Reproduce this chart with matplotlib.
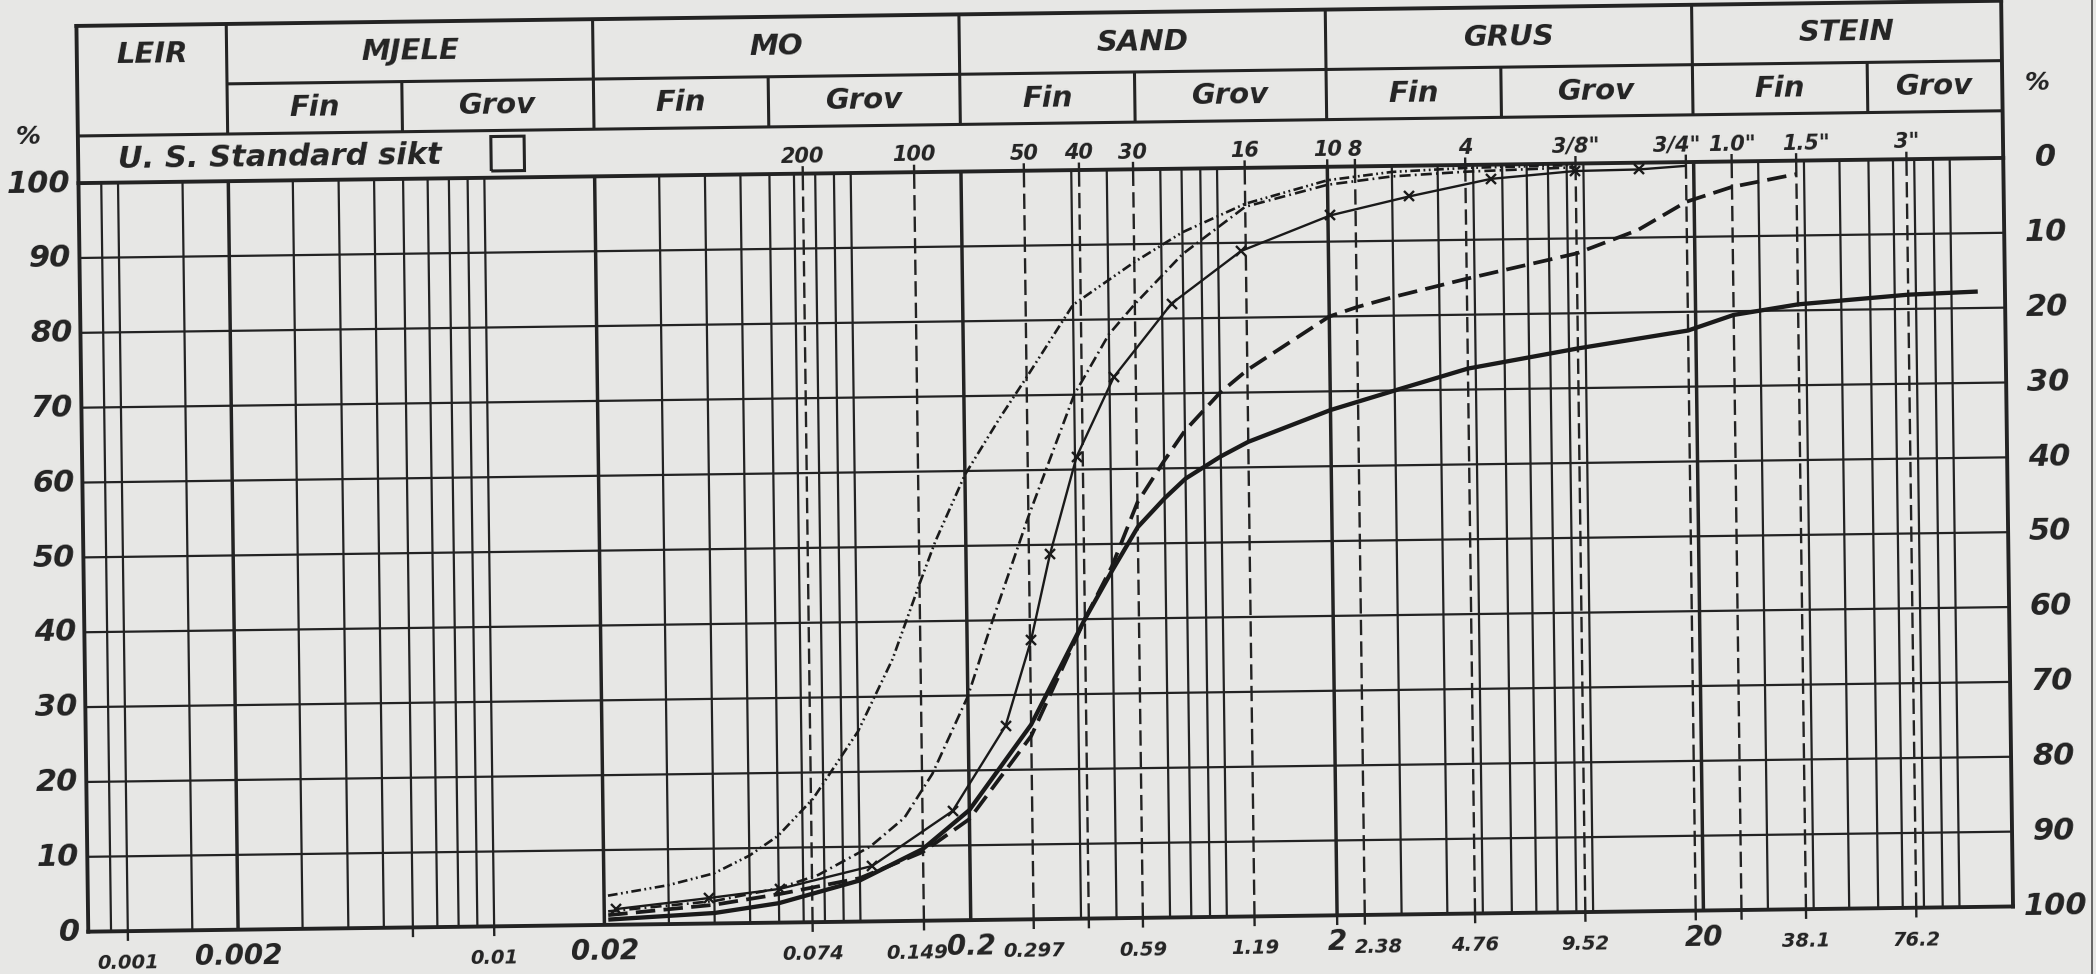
import numpy as np
import matplotlib.pyplot as plt
from matplotlib.transforms import Affine2D
from matplotlib.lines import Line2D

plt.rcParams['lines.scale_dashes'] = False
plt.rcParams['font.family'] = ['DejaVu Sans']

paper = '#e7e7e5'
ink = '#232323'

# grain size axis (mm), log scale
x_min, x_max = 0.00078, 140.0

# soil classes with their limits (mm)
classes = ['LEIR', 'MJELE', 'MO', 'SAND', 'GRUS', 'STEIN']
class_limits = [0.002, 0.02, 0.2, 2.0, 20.0]
fine_coarse = [0.006, 0.06, 0.6, 6.0, 60.0]

# U.S. standard sieves: opening (mm) and designation
sieve_mm = [0.074, 0.149, 0.297, 0.42, 0.59, 1.19, 2.0, 2.38, 4.76, 9.52, 19.05, 25.4, 38.1, 76.2]
sieve_names = ['200', '100', '50', '40', '30', '16', '10', '8', '4', '3/8"', '3/4"', '1.0"', '1.5"', '3"']

# numbers written under the axis
bottom_vals = [0.001, 0.002, 0.01, 0.02, 0.074, 0.149, 0.2, 0.297, 0.59, 1.19, 2, 2.38, 4.76, 9.52, 20, 38.1, 76.2]
bottom_text = ['0.001', '0.002', '0.01', '0.02', '0.074', '0.149', '0.2', '0.297', '0.59', '1.19', '2',
               '2.38', '4.76', '9.52', '20', '38.1', '76.2']
big_labels = ['0.002', '0.02', '0.2', '2', '20']

pct = list(range(0, 101, 10))

# grading curves: grain size (mm) -> percent passing
a_d = [0.0205, 0.03, 0.04, 0.05, 0.06, 0.075, 0.1, 0.125, 0.149, 0.165, 0.2, 0.25, 0.297, 0.4, 0.59, 0.8,
       1.19, 2.0, 3.0, 4.76, 9.52]
a_p = [3.9, 5.2, 6.7, 9.0, 11.6, 16.5, 25.4, 35.0, 45.0, 50.6, 59.5, 67.0, 72.4, 82.0, 87.6, 91.5,
       95.2, 98.2, 99.2, 99.6, 99.8]

b_d = [0.0205, 0.04, 0.06, 0.077, 0.107, 0.133, 0.159, 0.2, 0.234, 0.297, 0.4, 0.5, 0.59, 0.8, 1.19,
       2.0, 3.0, 4.76, 9.52]
b_p = [1.8, 3.0, 4.6, 6.3, 10.0, 13.8, 19.6, 29.9, 39.7, 53.8, 70.0, 78.0, 82.0, 88.6, 94.8,
       97.6, 98.6, 99.1, 99.5]

c_d = [0.0216, 0.0386, 0.0603, 0.108, 0.180, 0.253, 0.299, 0.339, 0.404, 0.514, 0.743, 1.155, 2.03,
       3.34, 5.59, 9.5, 14.2, 19.05]
c_p = [2.1, 3.4, 4.5, 7.4, 14.6, 25.9, 37.3, 48.7, 61.7, 72.3, 82.0, 88.9, 93.5,
       95.9, 98.1, 99.0, 99.1, 99.5]

d_d = [0.0205, 0.04, 0.06, 0.1, 0.149, 0.2, 0.297, 0.42, 0.5, 0.59, 0.7, 0.8, 1.0, 1.19, 2.0, 2.38,
       3.0, 4.76, 9.52, 14.0, 19.05, 25.4, 38.1]
d_p = [1.3, 2.5, 3.8, 5.8, 9.2, 13.5, 24.5, 40.0, 47.0, 55.5, 61.0, 65.0, 70.0, 73.0, 80.0, 81.2,
       82.5, 84.8, 88.0, 91.0, 94.7, 96.6, 98.2]

e_d = [0.0205, 0.04, 0.06, 0.1, 0.149, 0.2, 0.297, 0.42, 0.5, 0.59, 0.7, 0.8, 1.0, 1.19, 2.0, 3.0,
       4.76, 9.52, 19.05, 25.4, 38.1, 76.2, 118]
e_p = [0.7, 1.4, 2.6, 5.5, 9.6, 14.7, 26.0, 40.0, 46.4, 52.2, 56.0, 58.6, 61.5, 63.4, 67.5, 70.0,
       72.8, 75.3, 77.5, 79.5, 80.8, 81.9, 82.2]

W, H = 2096, 974
fig = plt.figure(figsize=(W / 100, H / 100), dpi=100)
fig.patch.set_facecolor(paper)
L, B, AW, AH = 0.03974, 0.05637, 0.91837, 0.76858
ax = fig.add_axes([L, B, AW, AH])
ax.set_xscale('log')
ax.set_xlim(x_min, x_max)
ax.set_ylim(0, 100)
ax.set_autoscale_on(False)
ax.axis('off')

# the sheet sits a little skewed
ANG = 0.75
rot = Affine2D().rotate_deg_around((L + AW / 2) * W, (B + AH / 2) * H, ANG)


def tr(dx=0, dy=0):
    return ax.transData + Affine2D().translate(dx, dy) + rot


def line(xs, ys, dx=0, dy=0, **kw):
    kw.setdefault('color', ink)
    kw.setdefault('lw', 1.6)
    kw.setdefault('solid_capstyle', 'butt')
    ax.plot(xs, ys, transform=tr(dx, dy), clip_on=False, **kw)


def label(x, y, s, dx=0, dy=0, **kw):
    kw.setdefault('color', ink)
    kw.setdefault('fontstyle', 'oblique')
    kw.setdefault('fontweight', 'bold')
    ax.text(x, y, s, transform=tr(dx, dy), rotation=ANG, rotation_mode='anchor',
            clip_on=False, **kw)


R3, R2, TOP = 106.3, 113.0, 121.0

# vertical grid
dashed_sieves = [s for s in sieve_mm if s != 2.0]
grid_x = [m * 10.0 ** e for e in range(-4, 3) for m in range(1, 10)] + [0.0015]
grid_x = [g for g in grid_x if x_min * 1.05 < g < x_max]
grid_x = [g for g in grid_x if not any(abs(g / s - 1) < 0.025 for s in dashed_sieves + class_limits)]
for g in grid_x:
    line([g, g], [0, 100], lw=1.6)
for g in class_limits:
    line([g, g], [0, 100], lw=2.5)
    line([g, g], [R3, TOP], lw=2.2)
for s in dashed_sieves:
    line([s, s], [0, 100], lw=1.7, dashes=(11, 4.5))
for s in sieve_mm:
    line([s, s], [100, 101.0], lw=1.7)
    line([s, s], [-1.3, 0], lw=1.7)
for g in [0.001, 0.006, 0.01]:
    line([g, g], [-1.3, 0], lw=1.7)

# horizontal grid
for p in pct[1:-1]:
    line([x_min, x_max], [p, p], lw=1.6)

# header table
for g in fine_coarse:
    line([g, g], [R3, R2], lw=2.2)
line([0.002, x_max], [R2, R2], lw=2.2)
line([x_min, x_max], [R3, R3], lw=2.2)

# frame
for y in [0, 100, TOP]:
    line([x_min, x_max], [y, y], lw=2.8, solid_capstyle='projecting')
for x in [x_min, x_max]:
    line([x, x], [0, TOP], lw=2.8, solid_capstyle='projecting')

# header text
edges = [x_min] + class_limits + [x_max]
for i, name in enumerate(classes):
    xc = np.sqrt(edges[i] * edges[i + 1])
    label(xc, (R2 + TOP) / 2, name, ha='center', va='center', fontsize=21)
    if i > 0:
        mid = fine_coarse[i - 1]
        label(np.sqrt(edges[i] * mid), (R3 + R2) / 2, 'Fin', ha='center', va='center', fontsize=21)
        label(np.sqrt(mid * edges[i + 1]), (R3 + R2) / 2, 'Grov', ha='center', va='center', fontsize=21)

label(x_min, (100 + R3) / 2, 'U. S. Standard sikt', dx=40, ha='left', va='center', fontsize=22)
line([0.01045, 0.01288, 0.01288, 0.01045, 0.01045], [100.9, 100.9, 105.5, 105.5, 100.9],
     lw=2.2, solid_joinstyle='miter')

# sieve numbers above the grid
nudge_top = {'3/4"': -9, '1.0"': 0, '1.5"': 10}
for s, name in zip(sieve_mm, sieve_names):
    label(s, 100, name, dx=nudge_top.get(name, 0), dy=17, ha='center', va='center', fontsize=15)

# grain sizes under the grid
nudge_bottom = {'0.149': -7, '2.38': 14}
for v, t in zip(bottom_vals, bottom_text):
    dx = nudge_bottom.get(t, 0)
    if t in big_labels:
        label(v, 0, t, dx=dx, dy=-27, ha='center', va='center', fontsize=20)
    else:
        label(v, 0, t, dx=dx, dy=-32, ha='center', va='center', fontsize=14)

# percent scales
for p in pct:
    label(x_min, p, str(p), dx=-8, ha='right', va='center', fontsize=22)
    label(x_max, p, str(100 - p), dx=42, ha='center', va='center', fontsize=22)
label(x_min, 100, '%', dx=-50, dy=47, ha='center', va='center', fontsize=18)
label(x_max, 110, '%', dx=35, ha='center', va='center', fontsize=18)

# grading curves
curve_ink = '#1a1a1a'
line(a_d, a_p, color=curve_ink, lw=1.9, dashes=(7, 2.5, 1.3, 2.5, 1.3, 2.5))
line(b_d, b_p, color=curve_ink, lw=1.9, dashes=(8, 3, 1.3, 3))
line(c_d, c_p, color=curve_ink, lw=1.7, marker='x', ms=7, mew=1.7,
     markevery=list(range(len(c_d) - 1)))
line(d_d, d_p, color=curve_ink, lw=2.7, dashes=(14, 6))
line(e_d, e_p, color=curve_ink, lw=3.1)

# edge of the sheet
fig.add_artist(Line2D([2092 / W, 2092 / W], [0, 1], transform=fig.transFigure,
                      color='#5a5a5a', lw=1.3))

fig.savefig('out.png', dpi=100, facecolor=fig.get_facecolor())
